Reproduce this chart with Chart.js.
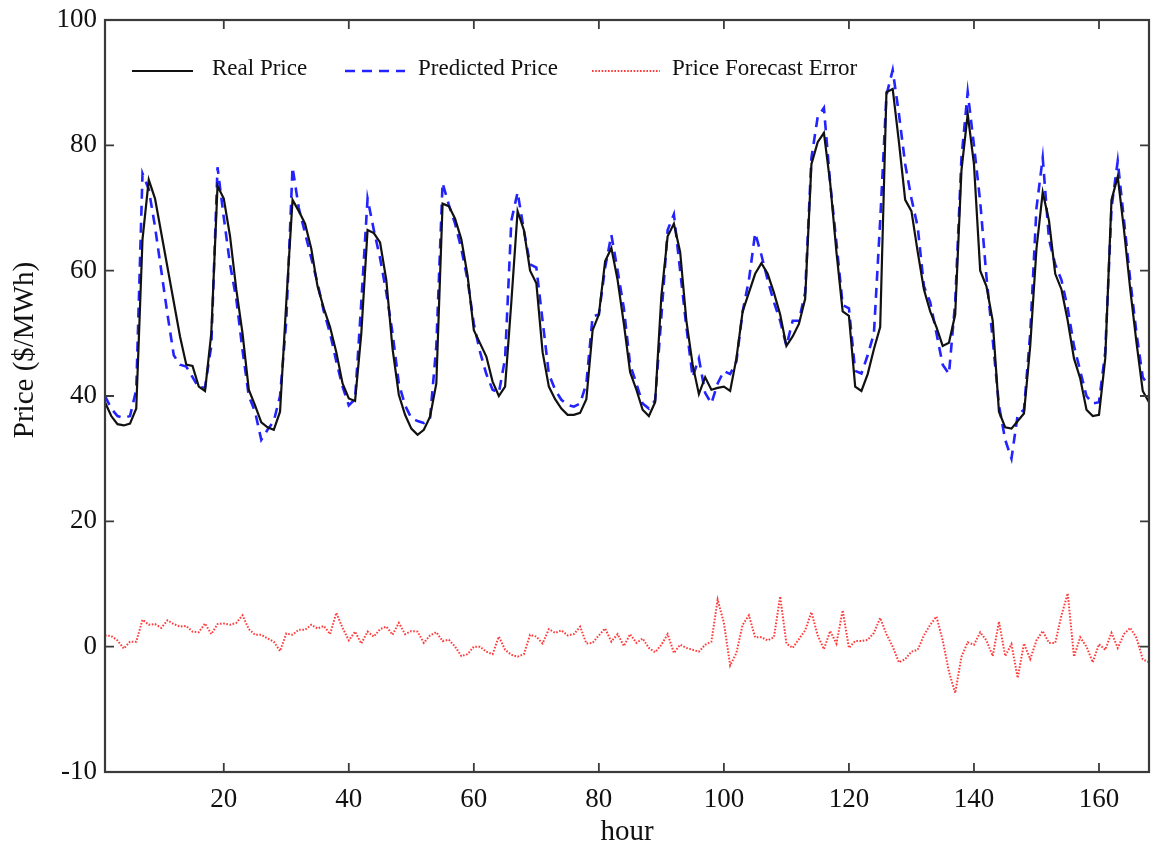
<!DOCTYPE html>
<html>
<head>
<meta charset="utf-8">
<script src="https://cdn.jsdelivr.net/npm/chart.js@4.4.1/dist/chart.umd.min.js"></script>
<style>
  html, body { margin: 0; padding: 0; background: #fff; }
  #wrap { width: 1153px; height: 850px; }
</style>
</head>
<body>
<div id="wrap"><canvas id="c" width="1153" height="850"></canvas></div>
<script>
// ---- data ----
const hours = Array.from({length: 168}, (_, i) => i + 1);

const realPrice = [
  39, 36.8, 35.5, 35.3, 35.6, 38, 65, 74.5, 71.5, 66,
  60.5, 55, 49.5, 45, 44.8, 41.5, 40.8, 50, 73.5, 71.5,
  65.5, 57, 50, 41, 38.5, 35.8, 35, 34.6, 37.5, 55,
  71.3, 69.5, 67.5, 63.5, 57.5, 54, 51, 47, 42, 39.6,
  39.2, 50, 66.5, 66, 64.5, 58.5, 47.5, 40.2, 37, 34.8,
  33.8, 34.6, 36.7, 42, 70.7, 70.3, 68.3, 65, 59.2, 50.5,
  48.4, 46.3, 42.3, 40, 41.5, 55, 69.5, 66.5, 60, 58,
  47, 41.5, 39.5, 38, 37, 37, 37.3, 39.5, 50.5, 53,
  61.5, 63.6, 58.5, 51.5, 43.8, 41, 37.8, 36.8, 39, 56,
  65.5, 67.5, 63, 52, 45, 40.3, 43, 41, 41.3, 41.5,
  40.8, 46, 53.5, 56.5, 59.5, 61.2, 59.5, 56.5, 53, 48,
  49.5, 51.5, 55.5, 77, 80.5, 82, 74, 63, 53.5, 52.8,
  41.5, 40.8, 43.5, 47.5, 51, 88.5, 89, 80.5, 71.3, 69.5,
  63, 57, 53.5, 51, 48, 48.5, 53, 76, 85, 77,
  60, 57.5, 52, 37.5, 35, 34.8, 36, 37.2, 48, 63.5,
  72.5, 68, 59.5, 57, 52, 46, 42.8, 37.8, 36.8, 37,
  46, 71.3, 75, 66.5, 57, 48.5, 40.8, 39
];

const predictedPrice = [
  40, 38, 36.8, 36.5, 36.8, 41, 75.5, 73, 67, 60,
  53, 46.5, 45, 44.7, 43, 41.3, 41.4, 48, 76.5, 68.5,
  61, 55.5, 47.3, 40, 37.5, 33, 34.6, 36, 40, 52,
  76.5, 70, 66, 62, 58, 53.5, 50, 45.5, 41.5, 38.5,
  39.5, 55, 71.5, 66.5, 62, 56.5, 50, 42, 38.5, 36.5,
  36, 35.7, 36.5, 48, 74, 70.5, 67.5, 63.5, 58.5, 51.5,
  47, 43.5, 41, 40.5, 46, 68, 72.5, 66.5, 61, 60.5,
  52, 43.5, 41, 39.4, 38.6, 38.3, 38.8, 42, 52.7, 53,
  60.5, 65.7, 60, 54, 45, 42, 38.8, 38, 39.3, 52.7,
  66.5, 69, 60, 51, 43, 46, 40.5, 38.8, 42, 44,
  43.5, 45.5, 53.5, 58.5, 66, 62.5, 58.5, 55, 52, 48,
  52, 52, 56.5, 78, 84.5, 86, 74, 64.5, 54.5, 54,
  44, 43.6, 46.5, 50, 68, 88, 92, 85, 77, 71.5,
  67, 57.5, 55, 50, 45, 43.5, 55, 78, 88.5, 80,
  71, 59, 49, 38.5, 33, 30, 37, 37.8, 50, 70,
  78, 65, 61, 58.5, 54, 48, 44, 40, 38.8, 39,
  47, 70, 77.5, 68, 58.5, 50, 43, 41.5
];

const forecastError = [
  1.8, 1.7, 1.0, -0.3, 0.8, 0.8, 4.3, 3.5, 3.6, 3.0,
  4.2, 3.6, 3.2, 3.3, 2.4, 2.3, 3.7, 2.0, 3.6, 3.7,
  3.5, 3.8, 5.0, 2.8, 1.9, 1.9, 1.3, 0.8, -0.7, 2.1,
  1.9, 2.7, 2.7, 3.5, 2.9, 3.3, 2.0, 5.4, 3.0, 1.0,
  2.4, 0.5, 2.4, 1.6, 2.8, 3.2, 1.9, 3.8, 2.0, 2.5,
  2.4, 0.6, 1.8, 2.3, 0.9, 1.1, 0.0, -1.5, -1.2, 0.0,
  0.0, -0.8, -1.2, 1.6, -0.5, -1.3, -1.6, -1.2, 1.9, 1.6,
  0.5, 2.8, 2.2, 2.6, 1.8, 2.0, 3.2, 0.5, 0.6, 1.8,
  2.9, 0.8, 2.0, 0.1, 2.0, 0.6, 1.3, -0.2, -0.9, 0.3,
  2.0, -1.0, 0.3, -0.2, -0.5, -0.8, 0.3, 0.8, 7.5, 3.8,
  -3.0, -1.0, 3.5, 5.0, 1.5, 1.5, 1.0, 1.5, 8.0, 0.5,
  -0.2, 1.2, 2.6, 5.5, 1.8, -0.4, 2.5, 0.5, 5.8, -0.2,
  0.9, 0.9, 1.1, 2.2, 4.6, 2.0, 0.0, -2.5, -2.0, -0.8,
  -0.5, 1.8, 3.5, 4.8, 1.0, -4.0, -7.4, -1.6, 0.7, 0.3,
  2.3, 1.0, -1.5, 4.0, -1.5, 0.4, -5.0, 0.5, -2.0, 1.0,
  2.5, 0.6, 0.6, 5.0, 8.5, -1.6, 1.5, 0.0, -2.5, 0.4,
  -0.5, 2.2, -0.2, 2.0, 3.0, 1.4, -2.0, -2.5
];

const xTicks = [20, 40, 60, 80, 100, 120, 140, 160];
const yTicks = [-20, 0, 20, 40, 60, 80, 100];
const yTickLabels = ['-10', '0', '20', '40', '60', '80', '100'];
const seriesNames = ['Real Price', 'Predicted Price', 'Price Forecast Error'];
const xTitle = 'hour';
const yTitle = 'Price ($/MWh)';

// ---- chart ----
const FONT = "'Liberation Serif', 'Times New Roman', serif";
Chart.defaults.font.family = FONT;
Chart.defaults.color = '#111';

const toXY = (vals) => vals.map((v, i) => ({x: hours[i], y: v}));

// legend layout (sample line start, sample line end, text start) inside plot
const legendSlots = [[132, 193, 212], [345, 405, 418], [592, 660, 672]];

const framePlugin = {
  id: 'frame',
  afterDatasetsDraw(chart) {
    const {ctx, chartArea: a, scales: {x, y}} = chart;
    const tl = 9;
    ctx.save();
    ctx.strokeStyle = '#3a3a3a';
    ctx.lineWidth = 1.8;
    ctx.beginPath();
    xTicks.forEach(v => {
      const px = x.getPixelForValue(v);
      ctx.moveTo(px, a.bottom); ctx.lineTo(px, a.bottom - tl);
      ctx.moveTo(px, a.top); ctx.lineTo(px, a.top + tl);
    });
    yTicks.forEach(v => {
      const py = y.getPixelForValue(v);
      ctx.moveTo(a.left, py); ctx.lineTo(a.left + tl, py);
      ctx.moveTo(a.right, py); ctx.lineTo(a.right - tl, py);
    });
    ctx.stroke();
    ctx.lineWidth = 2.2;
    ctx.strokeRect(a.left, a.top, a.right - a.left, a.bottom - a.top);
    ctx.restore();
  },
  afterDraw(chart) {
    const {ctx} = chart;
    // y axis title
    ctx.save();
    ctx.translate(25, 350);
    ctx.rotate(-Math.PI / 2);
    ctx.font = "29px " + FONT;
    ctx.fillStyle = '#111';
    ctx.textAlign = 'center';
    ctx.textBaseline = 'middle';
    ctx.fillText(yTitle, 0, 0);
    ctx.restore();
    // legend inside plot area
    ctx.save();
    chart.data.datasets.forEach((ds, i) => {
      const [x0, x1, tx] = legendSlots[i];
      const ly = 71;
      ctx.beginPath();
      ctx.strokeStyle = ds.borderColor;
      ctx.lineWidth = ds.borderWidth;
      ctx.setLineDash(ds.borderDash || []);
      ctx.moveTo(x0, ly); ctx.lineTo(x1, ly);
      ctx.stroke();
      ctx.setLineDash([]);
      ctx.font = "23px " + FONT;
      ctx.fillStyle = '#111';
      ctx.textAlign = 'left';
      ctx.textBaseline = 'alphabetic';
      ctx.fillText(ds.label, tx, 75);
    });
    ctx.restore();
  }
};

new Chart(document.getElementById('c'), {
  type: 'line',
  data: {
    datasets: [
      {
        label: seriesNames[0],
        data: toXY(realPrice),
        borderColor: '#111111',
        borderWidth: 2.2,
        pointRadius: 0,
        tension: 0,
        fill: false
      },
      {
        label: seriesNames[1],
        data: toXY(predictedPrice),
        borderColor: 'rgb(35,35,255)',
        borderWidth: 2.6,
        borderDash: [10, 7],
        pointRadius: 0,
        tension: 0,
        fill: false
      },
      {
        label: seriesNames[2],
        data: toXY(forecastError),
        borderColor: 'rgb(255,60,60)',
        borderWidth: 2,
        borderDash: [1.6, 1.6],
        pointRadius: 0,
        tension: 0,
        fill: false
      }
    ]
  },
  options: {
    responsive: false,
    animation: false,
    devicePixelRatio: 1,
    layout: { padding: { top: 20, right: 4, left: 0, bottom: 0 } },
    plugins: {
      legend: { display: false },
      tooltip: { enabled: false }
    },
    scales: {
      x: {
        type: 'linear',
        min: 1,
        max: 168,
        afterBuildTicks(scale) { scale.ticks = xTicks.map(v => ({value: v})); },
        afterFit(scale) { scale.height = 78; scale.paddingLeft = 0; scale.paddingRight = 0; },
        grid: { display: false, drawTicks: false },
        border: { display: false },
        ticks: { color: '#111', font: { size: 27 }, padding: 12, maxRotation: 0 },
        title: { display: true, text: xTitle, color: '#111', font: { size: 29 }, padding: { top: 0, bottom: 0 } }
      },
      y: {
        type: 'linear',
        min: -20,
        max: 100,
        afterBuildTicks(scale) { scale.ticks = yTicks.map(v => ({value: v})); },
        afterFit(scale) { scale.width = 105; scale.paddingTop = 0; scale.paddingBottom = 0; },
        grid: { display: false, drawTicks: false },
        border: { display: false },
        ticks: {
          color: '#111',
          font: { size: 27 },
          padding: 8,
          callback: (v) => { const i = yTicks.indexOf(v); return i >= 0 ? yTickLabels[i] : ''; }
        }
      }
    }
  },
  plugins: [framePlugin]
});
</script>
</body>
</html>
